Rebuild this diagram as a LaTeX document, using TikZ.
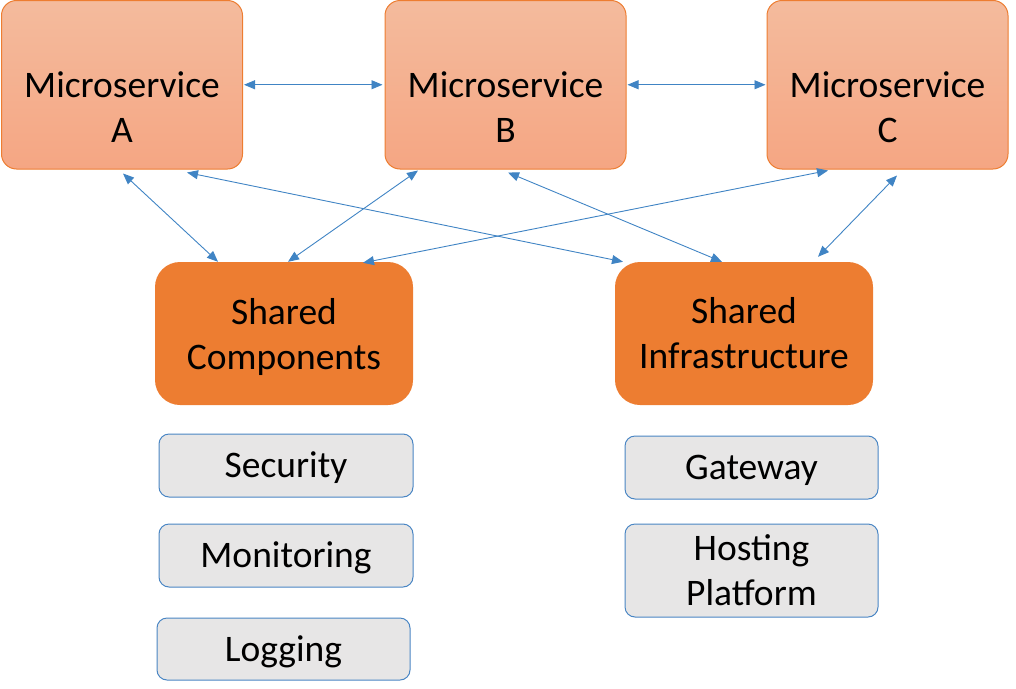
\documentclass[tikz,border=0pt]{standalone}
\usepackage{fontspec}
\setmainfont{Carlito}
\usetikzlibrary{arrows.meta}
\definecolor{msTop}{RGB}{244,187,157}
\definecolor{msBot}{RGB}{245,166,131}
\definecolor{orangeC}{RGB}{237,125,49}
\definecolor{grayF}{RGB}{231,230,230}
\definecolor{blueB}{RGB}{74,134,196}
\definecolor{arrowC}{RGB}{64,132,196}
\begin{document}
\begin{tikzpicture}[x=1pt,y=-1pt,
  every node/.style={font=\fontsize{37.5}{45}\selectfont, text=black},
  msbox/.style={draw=orangeC, line width=1pt, rounded corners=15pt, top color=msTop, bottom color=msBot, minimum width=241pt, minimum height=168.5pt, inner sep=0pt},
  mstext/.style={align=center, inner sep=0pt},
  shbox/.style={fill=orangeC, rounded corners=25pt, minimum width=258pt, minimum height=143pt, inner sep=0pt, align=center},
  gboxm/.style={fill=grayF, draw=blueB, line width=1pt, rounded corners=10pt, minimum width=253pt, minimum height=63pt, inner sep=0pt, align=center},
  gbox/.style={gboxm, text height=24pt, text depth=0pt},
  link/.style={draw=arrowC, line width=0.9pt, arrows={Triangle[length=11pt,width=9pt]-Triangle[length=11pt,width=9pt]}}
]
\useasboundingbox (0,0) rectangle (1016,688);

% microservices
\node[msbox] (A) at (122,84.75) {};
\node[msbox] (B) at (505.5,84.75) {};
\node[msbox] (C) at (887.5,84.75) {};
\node[mstext] (At) at (122,107) {Microservice\\A};
\node[mstext] (Bt) at (505.5,107) {Microservice\\B};
\node[mstext] (Ct) at (887.5,107) {Microservice\\C};

% shared
\node[shbox] (Comp) at (284,333.5) {Shared\\\raisebox{0pt}[\height][0pt]{Components}};
\node[shbox] (Infra) at (744,333.5) {Shared\\Infrastructure};

% gray boxes
\node[gbox, minimum width=254pt] (Sec) at (286,465.5) {Security};
\node[gbox, minimum width=254pt] (Mon) at (286,555.5) {Monitoring};
\node[gbox, minimum height=62pt] (Log) at (283.5,649) {Logging};
\node[gbox] (Gate) at (751.5,467.5) {Gateway};
\node[gboxm, minimum height=93pt] (Host) at (751.5,570.5) {Hosting\\Platform};

% connectors
\draw[link] ([xshift=1pt]A.east) -- ([xshift=-2pt]B.west);
\draw[link] ([xshift=1pt]B.east) -- ([xshift=-1pt]C.west);
\draw[link] ([xshift=1pt,yshift=-4pt]A.south) -- ([xshift=-66pt]Comp.north);
\draw[link] ([xshift=65pt,yshift=-3pt]A.south) -- ([xshift=-121pt]Infra.north);
\draw[link] ([xshift=-87.5pt,yshift=-1pt]B.south) -- ([xshift=4pt]Comp.north);
\draw[link] ([xshift=2.5pt,yshift=-3pt]B.south) -- ([xshift=-22pt]Infra.north);
\draw[link] ([xshift=-59.5pt,yshift=-1pt]C.south) -- ([xshift=79pt,yshift=-1pt]Comp.north);
\draw[link] ([xshift=9.5pt,yshift=-6pt]C.south) -- ([xshift=74pt,yshift=5pt]Infra.north);
\end{tikzpicture}
\end{document}
